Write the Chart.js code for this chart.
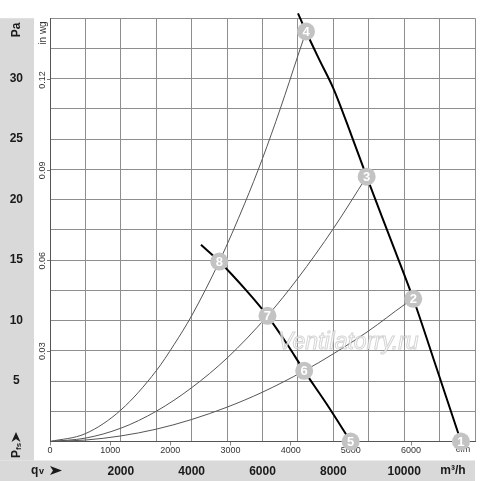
<!DOCTYPE html>
<html>
<head>
<meta charset="utf-8">
<script src="https://cdn.jsdelivr.net/npm/chart.js@4.4.1/dist/chart.umd.min.js"></script>
<style>
  body { margin: 0; background: #fff; }
  #wrap { width: 500px; height: 481px; }
</style>
</head>
<body>
<div id="wrap"><canvas id="fanChart" width="500" height="481"></canvas></div>
<script>
// fan curves (m3/h, Pa)
const fan1Flow = [7002, 7228, 7600, 8000, 8500, 8941, 9600, 10257, 10900, 11604]
const fan1Pa   = [35.4, 33.9, 31.6, 29.2, 25.4, 21.9, 16.85, 11.8, 6.2, 0]
const fan2Flow = [4263, 4780, 5553, 6140, 6683, 7177, 7812, 8490]
const fan2Pa   = [16.26, 14.88, 12.45, 10.39, 8.10, 5.84, 3.1, 0]

// system curves
const sysAFlow = [0, 1000, 2000, 3000, 3500, 4000, 4780, 5500, 6000, 6500, 7000, 7228]
const sysAPa   = [0, 0.65, 2.6, 5.85, 8.0, 10.4, 14.88, 19.7, 23.4, 27.5, 31.9, 33.9]
const sysBFlow = [0, 1000, 2000, 3000, 4000, 5000, 6140, 7000, 8000, 8941]
const sysBPa   = [0, 0.28, 1.1, 2.5, 4.45, 6.9, 10.39, 13.5, 17.6, 21.9]
const sysCFlow = [0, 1000, 2000, 3000, 4000, 5000, 6000, 7177, 8000, 9000, 10000, 10257]
const sysCPa   = [0, 0.12, 0.46, 1.02, 1.82, 2.84, 4.08, 5.84, 7.25, 9.15, 11.3, 11.8]

// numbered operating points
const markerLabels = ['1', '2', '3', '4', '5', '6', '7', '8']
const markerFlow = [11604, 10257, 8941, 7228, 8490, 7177, 6140, 4780]
const markerPa   = [0, 11.8, 21.9, 33.9, 0, 5.84, 10.39, 14.88]

// ticks
const flowTicks = [0, 1000, 2000, 3000, 4000, 5000, 6000, 7000, 8000, 9000, 10000, 11000, 12000]
const cfmTicks = [0, 1000, 2000, 3000, 4000, 5000, 6000]
const paTicks = [0, 2.5, 5, 7.5, 10, 12.5, 15, 17.5, 20, 22.5, 25, 27.5, 30, 32.5, 35]
const wgTicks = [0.03, 0.06, 0.09, 0.12]

const FONT = "'Liberation Sans', Arial, sans-serif"
const GRID = '#8e8e8e'
const PA_PER_INWG = 249.089
const M3H_PER_CFM = 1.699

function pts(xs, ys) { return xs.map((x, i) => ({x: x, y: ys[i]})) }

function rotText(ctx, txt, x, y, font, color) {
    ctx.save()
    ctx.translate(x, y)
    ctx.rotate(-Math.PI / 2)
    ctx.font = font
    ctx.fillStyle = color
    ctx.textAlign = 'center'
    ctx.textBaseline = 'middle'
    ctx.fillText(txt, 0, 0)
    ctx.restore()
}

const decor = {
    id: 'decor',
    beforeDraw(chart) {
        const ctx = chart.ctx
        const area = chart.chartArea
        const bandTop = chart.scales.x.top
        ctx.save()
        ctx.fillStyle = '#d9d9d9'
        ctx.fillRect(0, area.top, chart.scales.pa.right, bandTop - area.top)
        ctx.fillRect(0, bandTop, area.right, chart.height - bandTop)
        ctx.restore()
    },
    beforeDatasetsDraw(chart) {
        const ctx = chart.ctx
        const bandTop = chart.scales.x.top
        const mid = bandTop + 10
        rotText(ctx, 'Pa', 17, 30, 'bold 12px ' + FONT, '#1a1a1a')
        rotText(ctx, 'in wg', 43, 33, '10px ' + FONT, '#333')

        ctx.save()
        // Pfs, rotated
        ctx.translate(17, 458)
        ctx.rotate(-Math.PI / 2)
        ctx.fillStyle = '#1a1a1a'
        ctx.textBaseline = 'middle'
        ctx.textAlign = 'left'
        ctx.font = 'bold 12px ' + FONT
        ctx.fillText('P', 0, 0)
        ctx.font = 'bold 8px ' + FONT
        ctx.fillText('fs', 8, 2)
        ctx.restore()

        ctx.save()
        ctx.fillStyle = '#1a1a1a'
        // up arrow
        ctx.beginPath()
        ctx.moveTo(16, 432); ctx.lineTo(20.5, 442); ctx.lineTo(16, 439); ctx.lineTo(11.5, 442)
        ctx.closePath(); ctx.fill()
        // qv
        ctx.textBaseline = 'middle'
        ctx.textAlign = 'left'
        ctx.font = 'bold 12px ' + FONT
        ctx.fillText('q', 31, mid)
        ctx.font = 'bold 9px ' + FONT
        ctx.fillText('v', 39, mid + 1.5)
        // right arrow
        ctx.beginPath()
        ctx.moveTo(62, mid); ctx.lineTo(50, mid - 4.5); ctx.lineTo(53, mid); ctx.lineTo(50, mid + 4.5)
        ctx.closePath(); ctx.fill()
        ctx.textAlign = 'center'
        ctx.font = 'bold 12px ' + FONT
        ctx.fillText('m³/h', 453, mid)
        ctx.font = '9px ' + FONT
        ctx.fillStyle = '#333'
        ctx.fillText('cfm', 463, 450)
        ctx.restore()
    },
    afterDatasetsDraw(chart) {
        const ctx = chart.ctx
        ctx.save()
        ctx.font = 'italic 23px ' + FONT
        ctx.textAlign = 'left'
        ctx.textBaseline = 'alphabetic'
        ctx.fillStyle = 'rgba(255,255,255,0.75)'
        ctx.strokeStyle = 'rgba(160,160,160,0.45)'
        ctx.lineWidth = 1
        ctx.fillText('Ventilatorry.ru', 278, 349)
        ctx.strokeText('Ventilatorry.ru', 278, 349)

        const meta = chart.getDatasetMeta(0)
        ctx.font = 'bold 13px ' + FONT
        ctx.fillStyle = '#fff'
        ctx.textAlign = 'center'
        ctx.textBaseline = 'middle'
        meta.data.forEach((p, i) => ctx.fillText(markerLabels[i], p.x, p.y + 0.5))
        ctx.restore()
    }
}

const fanLine = { borderColor: '#000', borderWidth: 2, pointRadius: 0, cubicInterpolationMode: 'monotone',
                  order: 1, xAxisID: 'x', yAxisID: 'pa' }
const sysLine = { borderColor: '#555', borderWidth: 1, pointRadius: 0, cubicInterpolationMode: 'monotone',
                  order: 2, xAxisID: 'x', yAxisID: 'pa' }

new Chart(document.getElementById('fanChart'), {
    type: 'line',
    data: {
        datasets: [
            { label: 'points', data: pts(markerFlow, markerPa), showLine: false, pointRadius: 9,
              pointBackgroundColor: '#c3c3c3', pointBorderWidth: 0, clip: false, order: 0,
              xAxisID: 'x', yAxisID: 'pa' },
            Object.assign({ label: 'fan 1', data: pts(fan1Flow, fan1Pa), clip: 8 }, fanLine),
            Object.assign({ label: 'fan 2', data: pts(fan2Flow, fan2Pa) }, fanLine),
            Object.assign({ label: 'system A', data: pts(sysAFlow, sysAPa) }, sysLine),
            Object.assign({ label: 'system B', data: pts(sysBFlow, sysBPa) }, sysLine),
            Object.assign({ label: 'system C', data: pts(sysCFlow, sysCPa) }, sysLine)
        ]
    },
    plugins: [decor],
    options: {
        responsive: false,
        animation: false,
        events: [],
        layout: { padding: { top: 17, right: 25, bottom: 0, left: 0 } },
        plugins: { legend: { display: false }, tooltip: { enabled: false } },
        scales: {
            x: {
                type: 'linear', position: 'bottom', weight: 2, min: 0, max: 12000,
                afterBuildTicks: s => { s.ticks = flowTicks.map(v => ({value: v})) },
                afterFit: s => { s.height = 20.5 },
                ticks: { padding: 3.5, color: '#1a1a1a', autoSkip: false, maxRotation: 0,
                         font: { family: FONT, size: 12, weight: 'bold' },
                         callback: v => (v > 0 && v < 12000 && v % 2000 === 0) ? String(v) : '' },
                grid: { color: GRID, drawTicks: false },
                border: { display: false }
            },
            cfm: {
                type: 'linear', position: 'bottom', weight: 1, min: 0, max: 12000 / M3H_PER_CFM,
                afterBuildTicks: s => { s.ticks = cfmTicks.map(v => ({value: v})) },
                afterFit: s => { s.height = 19 },
                ticks: { padding: 0, color: '#333', autoSkip: false, maxRotation: 0,
                         font: { family: FONT, size: 9 }, callback: v => String(v) },
                grid: { drawOnChartArea: false, tickLength: 4, color: '#888' },
                border: { color: '#555' }
            },
            pa: {
                type: 'linear', position: 'left', weight: 2, min: 0, max: 35,
                afterBuildTicks: s => { s.ticks = paTicks.map(v => ({value: v})) },
                afterFit: s => { s.width = 34 },
                ticks: { padding: 11, crossAlign: 'center', color: '#1a1a1a', autoSkip: false,
                         font: { family: FONT, size: 12, weight: 'bold' },
                         callback: v => (v % 5 === 0 && v > 0 && v < 35) ? String(v) : '' },
                grid: { color: GRID, drawTicks: false },
                border: { display: false }
            },
            wg: {
                type: 'linear', position: 'left', weight: 1, min: 0, max: 35 / PA_PER_INWG,
                afterBuildTicks: s => { s.ticks = wgTicks.map(v => ({value: v})) },
                afterFit: s => { s.width = 16 },
                ticks: { padding: -4, crossAlign: 'center', minRotation: 90, maxRotation: 90,
                         color: '#333', autoSkip: false, font: { family: FONT, size: 9 },
                         callback: v => v.toFixed(2) },
                grid: { drawOnChartArea: false, tickLength: 3, color: '#777' },
                border: { color: '#555' }
            }
        }
    }
})
</script>
</body>
</html>
